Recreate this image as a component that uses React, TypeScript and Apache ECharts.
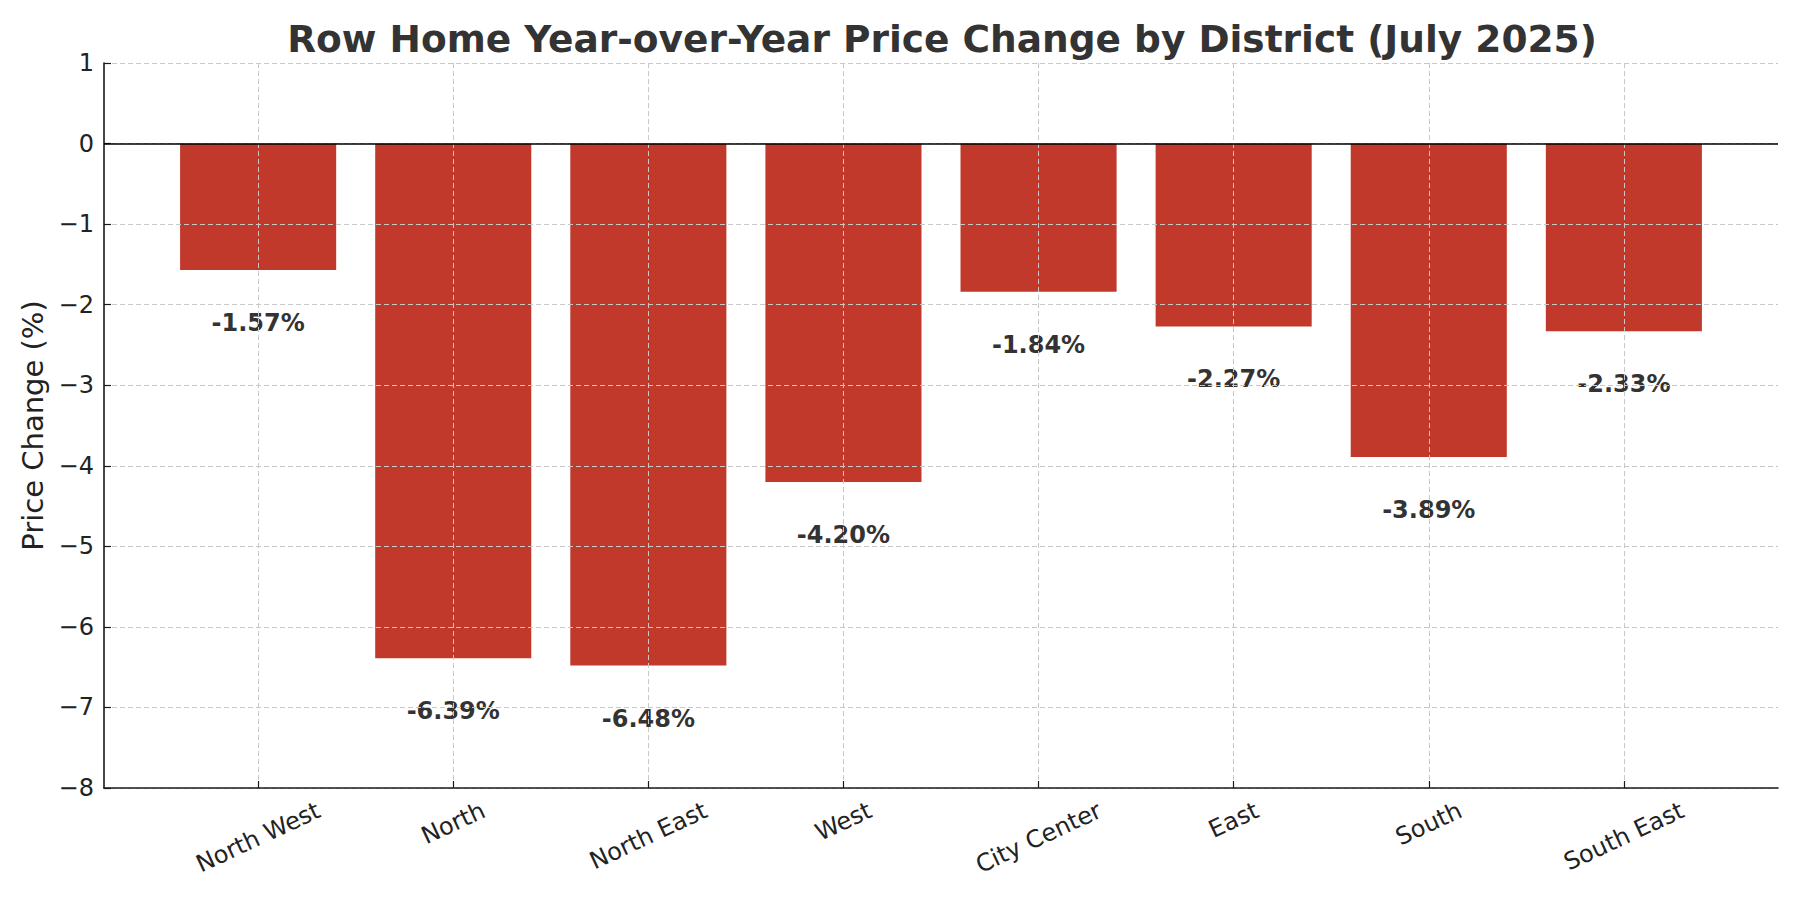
import React, { useEffect, useRef } from 'react';
import * as echarts from 'echarts';
import type { EChartsOption } from 'echarts';

const districts = ['North West', 'North', 'North East', 'West', 'City Center', 'East', 'South', 'South East'];
const yoyChange = [-1.57, -6.39, -6.48, -4.2, -1.84, -2.27, -3.89, -2.33];

const FONT = '"DejaVu Sans", sans-serif';
const TICK_SIZE = 24;
const ROTATE = 25;
const positions = districts.map((_, i) => i);

// matplotlib aligns the top of each rotated label's box; echarts centres it,
// so push longer labels further down with per-label padding
const labelRich = () => {
  const ctx = document.createElement('canvas').getContext('2d');
  const rad = (ROTATE * Math.PI) / 180;
  const rich: Record<string, any> = {};
  districts.forEach((name, i) => {
    let w = name.length * TICK_SIZE * 0.58;
    if (ctx) {
      ctx.font = `${TICK_SIZE}px "DejaVu Sans"`;
      w = ctx.measureText(name).width;
    }
    const dy = (w * Math.sin(rad)) / 2;
    const p = 2 * dy * Math.cos(rad);
    const r = p * Math.tan(rad);
    rich['l' + i] = { padding: [p, r, 0, 0], fontFamily: FONT, fontSize: TICK_SIZE, color: '#222222' };
  });
  return rich;
};

const App: React.FC = () => {
  const chartRef = useRef<HTMLDivElement>(null);

  useEffect(() => {
    document.body.style.margin = '0';
    if (!chartRef.current) return;
    const chart = echarts.init(chartRef.current, undefined, { renderer: 'svg' });

    const option: EChartsOption = {
      animation: false,
      backgroundColor: '#ffffff',
      title: {
        text: 'Row Home Year-over-Year Price Change by District (July 2025)',
        left: 937,
        top: 15,
        textAlign: 'center',
        textStyle: { fontFamily: FONT, fontSize: 37.5, fontWeight: 'bold', color: '#333333' },
      },
      grid: { left: 104, right: 22, top: 63, bottom: 112 },
      xAxis: {
        type: 'value',
        min: -0.79,
        max: 7.79,
        z: 3,
        axisLine: { onZero: false, lineStyle: { color: '#1a1a1a', width: 1.6 } },
        axisTick: { show: true, inside: true, length: 7, customValues: positions, lineStyle: { color: '#1a1a1a', width: 1.2 } },
        axisLabel: {
          customValues: positions,
          formatter: (v: number) => {
            const i = Math.round(v);
            return districts[i] ? `{l${i}|${districts[i]}}` : '';
          },
          rich: labelRich(),
          rotate: ROTATE,
          align: 'center',
          verticalAlign: 'middle',
          margin: 21,
          fontFamily: FONT,
          fontSize: TICK_SIZE,
          color: '#222222',
        },
        splitLine: { show: true, lineStyle: { color: '#c8c8c8', type: [5, 3], width: 1 } },
      },
      yAxis: {
        type: 'value',
        min: -8,
        max: 1,
        interval: 1,
        z: 3,
        name: 'Price Change (%)',
        nameLocation: 'middle',
        nameGap: 54,
        nameTextStyle: { fontFamily: FONT, fontSize: 29, color: '#222222' },
        axisLine: { show: true, onZero: false, lineStyle: { color: '#1a1a1a', width: 1.6 } },
        axisTick: { show: true, inside: true, length: 7, lineStyle: { color: '#1a1a1a', width: 1.2 } },
        axisLabel: {
          formatter: (v: number) => (v < 0 ? '\u2212' + Math.abs(v) : String(v)),
          margin: 10,
          fontFamily: FONT,
          fontSize: TICK_SIZE,
          color: '#222222',
        },
        splitLine: { show: true, lineStyle: { color: '#c8c8c8', type: [5, 3], width: 1 } },
      },
      series: [
        {
          type: 'bar',
          data: yoyChange.map((v, i) => [i, v]),
          barWidth: '80%',
          itemStyle: { color: '#c0392b' },
          label: {
            show: true,
            position: 'bottom',
            distance: 41,
            formatter: (p: any) => `${(p.value[1] as number).toFixed(2)}%`,
            fontFamily: FONT,
            fontSize: 24,
            fontWeight: 'bold',
            color: '#333333',
          },
          markLine: {
            silent: true,
            symbol: 'none',
            label: { show: false },
            lineStyle: { color: '#000000', type: 'solid', width: 1.6 },
            data: [{ yAxis: 0 }],
          },
        },
      ],
    };

    chart.setOption(option);
    return () => chart.dispose();
  }, []);

  return <div ref={chartRef} style={{ width: '1800px', height: '900px' }} />;
};

export default App;
